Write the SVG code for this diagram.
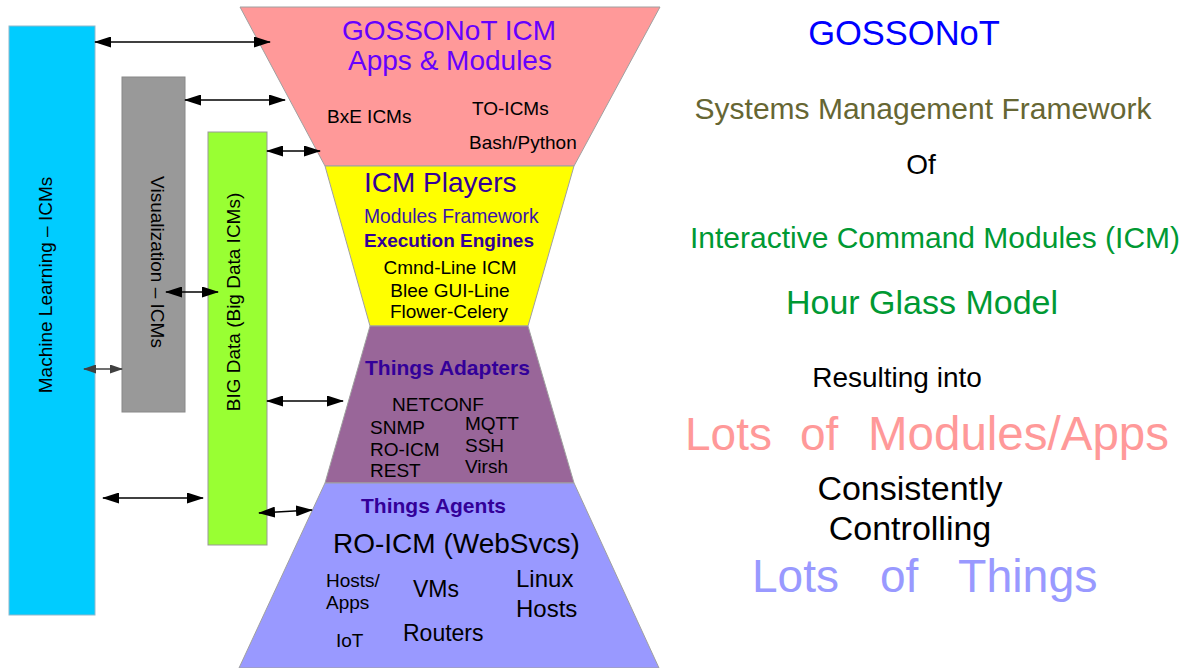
<svg xmlns="http://www.w3.org/2000/svg" width="1190" height="668" viewBox="0 0 1190 668">
<defs>
<style>
text{font-family:"Liberation Sans",Arial,sans-serif;}
.seg{stroke:#a0a0a0;stroke-width:1;}
.conn{stroke:#000;stroke-width:1.4;fill:none;marker-start:url(#ah);marker-end:url(#ah);}
.conn2{stroke:#404040;stroke-width:1.4;fill:none;marker-start:url(#ah2);marker-end:url(#ah2);}
.blk{fill:#000;font-size:19px;}
.dp{fill:#330099;font-weight:bold;font-size:21px;}
.mid{text-anchor:middle;}
</style>
<marker id="ah" markerUnits="userSpaceOnUse" markerWidth="17" markerHeight="11" refX="16" refY="5.5" orient="auto-start-reverse"><path d="M0,0 L17,5.5 L0,11 Z" fill="#000"/></marker>
<marker id="ah2" markerUnits="userSpaceOnUse" markerWidth="13" markerHeight="9" refX="12" refY="4.5" orient="auto-start-reverse"><path d="M0,0 L13,4.5 L0,9 Z" fill="#404040"/></marker>
</defs>
<rect width="1190" height="668" fill="#fff"/>

<g id="machine-learning">
<rect x="9" y="26" width="86" height="589" fill="#00ccff" stroke="#8fb8cc" stroke-width="1"/>
<text class="blk mid" transform="translate(51.5,285) rotate(-90)">Machine Learning – ICMs</text>
</g>
<g id="visualization">
<rect x="122" y="77" width="63" height="335" fill="#999999" stroke="#888" stroke-width="1"/>
<text class="blk mid" transform="translate(151,262) rotate(90)">Visualization – ICMs</text>
</g>
<g id="big-data">
<rect x="208" y="132" width="59" height="413" fill="#99ff33" stroke="#999" stroke-width="1"/>
<text class="blk mid" transform="translate(239.5,302) rotate(-90)">BIG Data (Big Data ICMs)</text>
</g>

<g id="apps-modules">
<polygon class="seg" points="240,7 660,7 574,166 325,166" fill="#ff9999"/>
<text class="mid" x="449" y="40" font-size="28" fill="#6600ff">GOSSONoT ICM</text>
<text class="mid" x="450" y="70" font-size="28" fill="#6600ff">Apps &amp; Modules</text>
<text class="blk" x="327" y="123">BxE ICMs</text>
<text class="blk" x="472" y="115">TO-ICMs</text>
<text class="blk" x="469" y="149">Bash/Python</text>
</g>
<g id="icm-players">
<polygon class="seg" points="325,166 574,166 528,326 370,326" fill="#ffff00"/>
<text x="364" y="192" font-size="28" fill="#330099">ICM Players</text>
<text x="364" y="223" font-size="19.3" fill="#3a14aa">Modules Framework</text>
<text x="364" y="247" font-size="19" font-weight="bold" fill="#330099">Execution Engines</text>
<text class="blk mid" x="450" y="274">Cmnd-Line ICM</text>
<text class="blk mid" x="450" y="297">Blee GUI-Line</text>
<text class="blk mid" x="449" y="318">Flower-Celery</text>
</g>
<g id="things-adapters">
<polygon class="seg" points="370,326 528,326 574,483 325,483" fill="#996699"/>
<text class="dp" x="365" y="375" font-size="21.4">Things Adapters</text>
<text class="blk" x="392" y="411">NETCONF</text>
<text class="blk" x="370" y="434">SNMP</text>
<text class="blk" x="370" y="456">RO-ICM</text>
<text class="blk" x="370" y="477">REST</text>
<text class="blk" x="465" y="430">MQTT</text>
<text class="blk" x="465" y="452">SSH</text>
<text class="blk" x="465" y="473">Virsh</text>
</g>
<g id="things-agents">
<polygon class="seg" points="325,483 574,483 659,668 239,668" fill="#9999ff"/>
<text class="dp" x="361" y="513">Things Agents</text>
<text x="333" y="553" font-size="28" fill="#000">RO-ICM (WebSvcs)</text>
<text class="blk" x="326" y="587">Hosts/</text>
<text class="blk" x="326" y="609">Apps</text>
<text x="413" y="597" font-size="23" fill="#000">VMs</text>
<text x="516" y="587" font-size="24" fill="#000">Linux</text>
<text x="516" y="617" font-size="24" fill="#000">Hosts</text>
<text class="blk" x="336" y="647">IoT</text>
<text x="403" y="641" font-size="23" fill="#000">Routers</text>
</g>

<g id="connectors">
<line class="conn" x1="95" y1="42" x2="270" y2="42"/>
<line class="conn" x1="185" y1="100" x2="285" y2="100"/>
<line class="conn" x1="267" y1="151" x2="320" y2="151"/>
<line class="conn" x1="166" y1="292" x2="218" y2="292"/>
<line class="conn2" x1="84" y1="369" x2="122" y2="369"/>
<line class="conn" x1="267" y1="401" x2="343" y2="401"/>
<line class="conn" x1="103" y1="498" x2="203" y2="498"/>
<line class="conn" x1="259" y1="513" x2="312" y2="510"/>
</g>

<g id="caption">
<text class="mid" x="904" y="45" font-size="34.5" fill="#0000ff">GOSSONoT</text>
<text class="mid" x="923" y="119" font-size="30" fill="#666633">Systems Management Framework</text>
<text class="mid" x="921" y="174" font-size="28" fill="#000">Of</text>
<text class="mid" x="935" y="248" font-size="30" fill="#009933">Interactive Command Modules (ICM)</text>
<text class="mid" x="922" y="314" font-size="34" fill="#009933">Hour Glass Model</text>
<text class="mid" x="897" y="387" font-size="28" fill="#000">Resulting into</text>
<text x="685" y="450" font-size="46" fill="#ff9999">Lots</text>
<text x="800" y="450" font-size="46" fill="#ff9999">of</text>
<text x="868" y="450" font-size="47.5" fill="#ff9999">Modules/Apps</text>
<text class="mid" x="910" y="500" font-size="34" fill="#000">Consistently</text>
<text class="mid" x="910" y="540" font-size="34" fill="#000">Controlling</text>
<text x="752" y="592" font-size="46" fill="#9999ff">Lots</text>
<text x="880" y="592" font-size="46" fill="#9999ff">of</text>
<text x="958" y="592" font-size="46.5" fill="#9999ff">Things</text>
</g>
</svg>
